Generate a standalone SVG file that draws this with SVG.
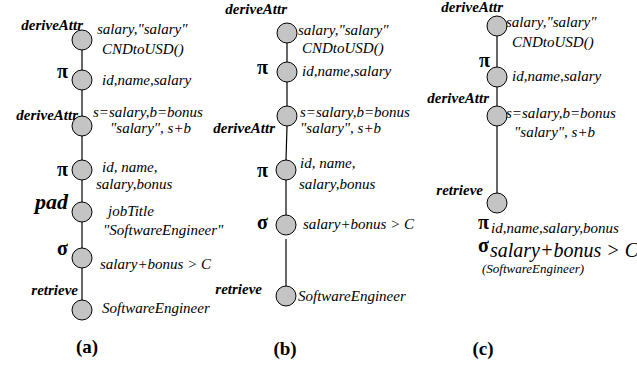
<svg xmlns="http://www.w3.org/2000/svg" width="637" height="365" viewBox="0 0 637 365">
  <style>
    .bg { fill: #ffffff; }
    .node { fill: #c4c4c4; stroke: #000000; stroke-width: 1; }
    .edge { stroke: #000000; stroke-width: 1.2; fill: none; }
    .op { font-family: "Liberation Serif", "Times New Roman", serif; font-style: italic; font-weight: bold; font-size: 15px; fill: #000; }
    .pad { font-size: 22px; }
    .sym { font-family: "Liberation Serif", "Times New Roman", serif; font-weight: bold; font-size: 20px; fill: #000; }
    .arg { font-family: "Liberation Serif", "Times New Roman", serif; font-style: italic; font-size: 15px; fill: #000; }
    .big { font-size: 20px; }
    .small { font-size: 13px; }
    .cap { font-family: "Liberation Serif", "Times New Roman", serif; font-weight: bold; font-size: 19px; fill: #000; text-anchor: middle; }
    .end { text-anchor: end; }
  </style>
  <rect class="bg" x="0" y="0" width="637" height="365"/>

  <!-- connectors -->
  <g id="connectors">
    <!-- tree (a) -->
    <line class="edge" x1="82" y1="50" x2="82" y2="70"/>
    <line class="edge" x1="82" y1="90" x2="82" y2="116"/>
    <line class="edge" x1="82" y1="136" x2="82" y2="160"/>
    <line class="edge" x1="82" y1="180" x2="82" y2="202"/>
    <line class="edge" x1="82" y1="222" x2="82" y2="248"/>
    <line class="edge" x1="82" y1="268" x2="82" y2="300"/>
    <!-- tree (b) -->
    <line class="edge" x1="287" y1="43" x2="287" y2="62"/>
    <line class="edge" x1="287" y1="82" x2="287" y2="106"/>
    <line class="edge" x1="287" y1="126" x2="286" y2="160"/>
    <line class="edge" x1="286" y1="180" x2="286" y2="215"/>
    <line class="edge" x1="286" y1="239" x2="286" y2="286"/>
    <!-- tree (c) -->
    <line class="edge" x1="497" y1="36" x2="497" y2="67"/>
    <line class="edge" x1="497" y1="87" x2="497" y2="106"/>
    <line class="edge" x1="497" y1="126" x2="497" y2="193"/>
  </g>

  <!-- tree (a) -->
  <g id="a-derive1">
    <circle class="node" cx="82" cy="40" r="10"/>
    <text class="op end" x="83" y="30">deriveAttr</text>
    <text class="arg" x="97" y="34">salary,"salary"</text>
    <text class="arg" x="102" y="54">CNDtoUSD()</text>
  </g>
  <g id="a-project1">
    <circle class="node" cx="82" cy="80" r="10"/>
    <text class="sym end" x="68" y="78">π</text>
    <text class="arg" x="102" y="85">id,name,salary</text>
  </g>
  <g id="a-derive2">
    <circle class="node" cx="82" cy="126" r="10"/>
    <text class="op end" x="78" y="120">deriveAttr</text>
    <text class="arg" x="93" y="117">s=salary,b=bonus</text>
    <text class="arg" x="110" y="133">"salary", s+b</text>
  </g>
  <g id="a-project2">
    <circle class="node" cx="82" cy="170" r="10"/>
    <text class="sym end" x="68" y="176">π</text>
    <text class="arg" x="102" y="172">id, name,</text>
    <text class="arg" x="96" y="189">salary,bonus</text>
  </g>
  <g id="a-pad">
    <circle class="node" cx="82" cy="212" r="10"/>
    <text class="op pad end" x="68" y="209">pad</text>
    <text class="arg" x="108" y="216">jobTitle</text>
    <text class="arg" x="103" y="235">"SoftwareEngineer"</text>
  </g>
  <g id="a-select">
    <circle class="node" cx="82" cy="258" r="10"/>
    <text class="sym end" x="68" y="255">σ</text>
    <text class="arg" x="100" y="269">salary+bonus &gt; C</text>
  </g>
  <g id="a-retrieve">
    <circle class="node" cx="82" cy="310" r="10"/>
    <text class="op end" x="78" y="295">retrieve</text>
    <text class="arg" x="102" y="313">SoftwareEngineer</text>
  </g>
  <text class="cap" x="87" y="353">(a)</text>

  <!-- tree (b) -->
  <g id="b-derive1">
    <circle class="node" cx="287" cy="33" r="10"/>
    <text class="op end" x="287" y="14">deriveAttr</text>
    <text class="arg" x="298" y="35">salary,"salary"</text>
    <text class="arg" x="302" y="53">CNDtoUSD()</text>
  </g>
  <g id="b-project1">
    <circle class="node" cx="287" cy="72" r="10"/>
    <text class="sym end" x="268" y="74">π</text>
    <text class="arg" x="302" y="76">id,name,salary</text>
  </g>
  <g id="b-derive2">
    <circle class="node" cx="287" cy="116" r="10"/>
    <text class="op end" x="275" y="133">deriveAttr</text>
    <text class="arg" x="300" y="117">s=salary,b=bonus</text>
    <text class="arg" x="300" y="133">"salary", s+b</text>
  </g>
  <g id="b-project2">
    <circle class="node" cx="286" cy="170" r="10"/>
    <text class="sym end" x="268" y="177">π</text>
    <text class="arg" x="300" y="168">id, name,</text>
    <text class="arg" x="299" y="189">salary,bonus</text>
  </g>
  <g id="b-select">
    <circle class="node" cx="286" cy="225" r="10"/>
    <text class="sym end" x="268" y="229">σ</text>
    <text class="arg" x="303" y="229">salary+bonus &gt; C</text>
  </g>
  <g id="b-retrieve">
    <circle class="node" cx="286" cy="296" r="10"/>
    <text class="op end" x="262" y="294">retrieve</text>
    <text class="arg" x="298" y="301">SoftwareEngineer</text>
  </g>
  <text class="cap" x="285" y="355">(b)</text>

  <!-- tree (c) -->
  <g id="c-derive1">
    <circle class="node" cx="497" cy="26" r="10"/>
    <text class="op end" x="503" y="12">deriveAttr</text>
    <text class="arg" x="506" y="27">salary,"salary"</text>
    <text class="arg" x="512" y="47">CNDtoUSD()</text>
  </g>
  <g id="c-project1">
    <circle class="node" cx="497" cy="77" r="10"/>
    <text class="sym end" x="490" y="67">π</text>
    <text class="arg" x="512" y="81">id,name,salary</text>
  </g>
  <g id="c-derive2">
    <circle class="node" cx="497" cy="116" r="10"/>
    <text class="op end" x="489" y="103">deriveAttr</text>
    <text class="arg" x="506" y="118">s=salary,b=bonus</text>
    <text class="arg" x="514" y="137">"salary", s+b</text>
  </g>
  <g id="c-retrieve">
    <circle class="node" cx="497" cy="203" r="10"/>
    <text class="op end" x="483" y="195">retrieve</text>
    <text class="sym" x="478" y="229">π</text>
    <text class="arg" x="491" y="233">id,name,salary,bonus</text>
    <text class="sym" x="478" y="252">σ</text>
    <text class="arg big" x="490" y="257">salary+bonus &gt; C</text>
    <text class="arg small" x="482" y="273">(SoftwareEngineer)</text>
  </g>
  <text class="cap" x="483" y="355">(c)</text>
</svg>
